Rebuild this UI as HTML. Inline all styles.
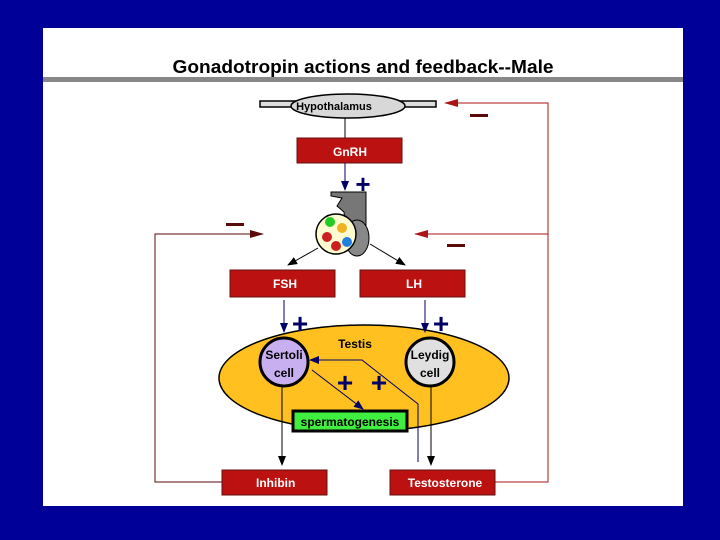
<!DOCTYPE html>
<html><head><style>
body{margin:0;background:#000099;}
svg{display:block;font-family:"Liberation Sans",sans-serif;font-weight:bold;}
</style></head><body>
<svg width="720" height="540" viewBox="0 0 720 540" xmlns="http://www.w3.org/2000/svg">
<defs>
<marker id="an" markerWidth="10" markerHeight="10" refX="9" refY="5" orient="auto" markerUnits="userSpaceOnUse"><path d="M0,1 L10,5 L0,9 z" fill="#000066"/></marker>
<marker id="ar" markerWidth="14" markerHeight="10" refX="13" refY="5" orient="auto" markerUnits="userSpaceOnUse"><path d="M0,1 L14,5 L0,9 z" fill="#aa1515"/></marker>
<marker id="ad" markerWidth="14" markerHeight="10" refX="13" refY="5" orient="auto" markerUnits="userSpaceOnUse"><path d="M0,1 L14,5 L0,9 z" fill="#5a0a0a"/></marker>
<marker id="ab" markerWidth="10" markerHeight="10" refX="9" refY="5" orient="auto" markerUnits="userSpaceOnUse"><path d="M0,1 L10,5 L0,9 z" fill="#000"/></marker>
</defs>
<rect x="43" y="28" width="640" height="478" fill="#fff"/>
<rect x="43" y="77" width="640" height="5" fill="#888"/>
<text x="363" y="73" font-size="18" text-anchor="middle" fill="#000" textLength="381" lengthAdjust="spacingAndGlyphs">Gonadotropin actions and feedback--Male</text>

<!-- hypothalamus -->
<rect x="260" y="101" width="176" height="6" fill="#ddd" stroke="#000" stroke-width="1.5"/>
<ellipse cx="348" cy="106" rx="57" ry="12" fill="#d8d8d8" stroke="#000" stroke-width="1.5"/>
<text x="334" y="110" font-size="11" text-anchor="middle" fill="#000">Hypothalamus</text>
<line x1="345" y1="118" x2="345" y2="138" stroke="#000" stroke-width="1"/>
<rect x="297" y="138" width="105" height="25" fill="#bb1111" stroke="#661111"/>
<text x="350" y="156" font-size="12" fill="#fff" text-anchor="middle">GnRH</text>
<line x1="345" y1="163" x2="345" y2="190" stroke="#000066" marker-end="url(#an)"/>
<text x="363" y="193" font-size="26" fill="#000066" text-anchor="middle">+</text>

<!-- pituitary -->
<path d="M331,192 L366,192 L366,228 L358,240 L352,226 L345,222 L344,212 L337,206 L342,198 L331,196 z" fill="#777" stroke="#000"/>
<ellipse cx="357" cy="238" rx="12" ry="18" fill="#888" stroke="#000"/>
<circle cx="336" cy="234" r="20" fill="#fffbd0" stroke="#000" stroke-width="1.5"/>
<circle cx="330" cy="222" r="5" fill="#22cc22"/>
<circle cx="342" cy="228" r="5" fill="#f0b020"/>
<circle cx="327" cy="237" r="5" fill="#cc2020"/>
<circle cx="347" cy="242" r="5" fill="#2080e0"/>
<circle cx="336" cy="246" r="5" fill="#cc2020"/>
<line x1="318" y1="248" x2="288" y2="265" stroke="#000" marker-end="url(#ab)"/>
<line x1="370" y1="244" x2="405" y2="265" stroke="#000" marker-end="url(#ab)"/>

<rect x="230" y="270" width="105" height="27" fill="#bb1111" stroke="#661111"/>
<text x="285" y="288" font-size="12" fill="#fff" text-anchor="middle">FSH</text>
<rect x="360" y="270" width="105" height="27" fill="#bb1111" stroke="#661111"/>
<text x="414" y="288" font-size="12" fill="#fff" text-anchor="middle">LH</text>

<!-- feedback lines -->
<polyline points="222,482 155,482 155,234 263,234" fill="none" stroke="#5a0a0a" marker-end="url(#ad)"/>
<rect x="226" y="223" width="18" height="3" fill="#5a0a0a"/>
<polyline points="495,482 548,482 548,103 445,103" fill="none" stroke="#aa1515" marker-end="url(#ar)"/>
<line x1="548" y1="234" x2="415" y2="234" stroke="#aa1515" marker-end="url(#ar)"/>
<rect x="470" y="114" width="18" height="3" fill="#5a0a0a"/>
<rect x="447" y="244" width="18" height="3" fill="#5a0a0a"/>

<!-- testis -->
<ellipse cx="364" cy="378" rx="145" ry="53" fill="#ffc020" stroke="#000" stroke-width="1.5"/>
<text x="355" y="348" font-size="12" fill="#000" text-anchor="middle">Testis</text>
<circle cx="284" cy="362" r="24" fill="#c8b0f0" stroke="#000" stroke-width="3"/>
<text x="284" y="359" font-size="12" text-anchor="middle" fill="#000">Sertoli</text>
<text x="284" y="377" font-size="12" text-anchor="middle" fill="#000">cell</text>
<circle cx="430" cy="362" r="24" fill="#e0e0e0" stroke="#000" stroke-width="3"/>
<text x="430" y="359" font-size="12" text-anchor="middle" fill="#000">Leydig</text>
<text x="430" y="377" font-size="12" text-anchor="middle" fill="#000">cell</text>
<line x1="284" y1="300" x2="284" y2="332" stroke="#000066" marker-end="url(#an)"/>
<text x="300" y="333" font-size="28" fill="#000066" text-anchor="middle">+</text>
<line x1="425" y1="300" x2="425" y2="332" stroke="#000066" marker-end="url(#an)"/>
<text x="441" y="333" font-size="28" fill="#000066" text-anchor="middle">+</text>
<text x="345" y="392" font-size="28" fill="#000066" text-anchor="middle">+</text>
<text x="379" y="392" font-size="28" fill="#000066" text-anchor="middle">+</text>

<rect x="293" y="411" width="114" height="20" fill="#40ee40" stroke="#000" stroke-width="3"/>
<text x="350" y="426" font-size="12" text-anchor="middle" fill="#000">spermatogenesis</text>
<line x1="312" y1="370" x2="363" y2="409" stroke="#000066" marker-end="url(#an)"/>
<polyline points="418,462 418,404 362,360 310,360" fill="none" stroke="#000066" marker-end="url(#an)"/>
<line x1="282" y1="386" x2="282" y2="465" stroke="#000" marker-end="url(#ab)"/>
<line x1="431" y1="386" x2="431" y2="465" stroke="#000" marker-end="url(#ab)"/>

<rect x="222" y="470" width="105" height="25" fill="#bb1111" stroke="#661111"/>
<text x="256" y="487" font-size="12" fill="#fff">Inhibin</text>
<rect x="390" y="470" width="105" height="25" fill="#bb1111" stroke="#661111"/>
<text x="445" y="487" font-size="12" fill="#fff" text-anchor="middle">Testosterone</text>
</svg>
</body></html>
